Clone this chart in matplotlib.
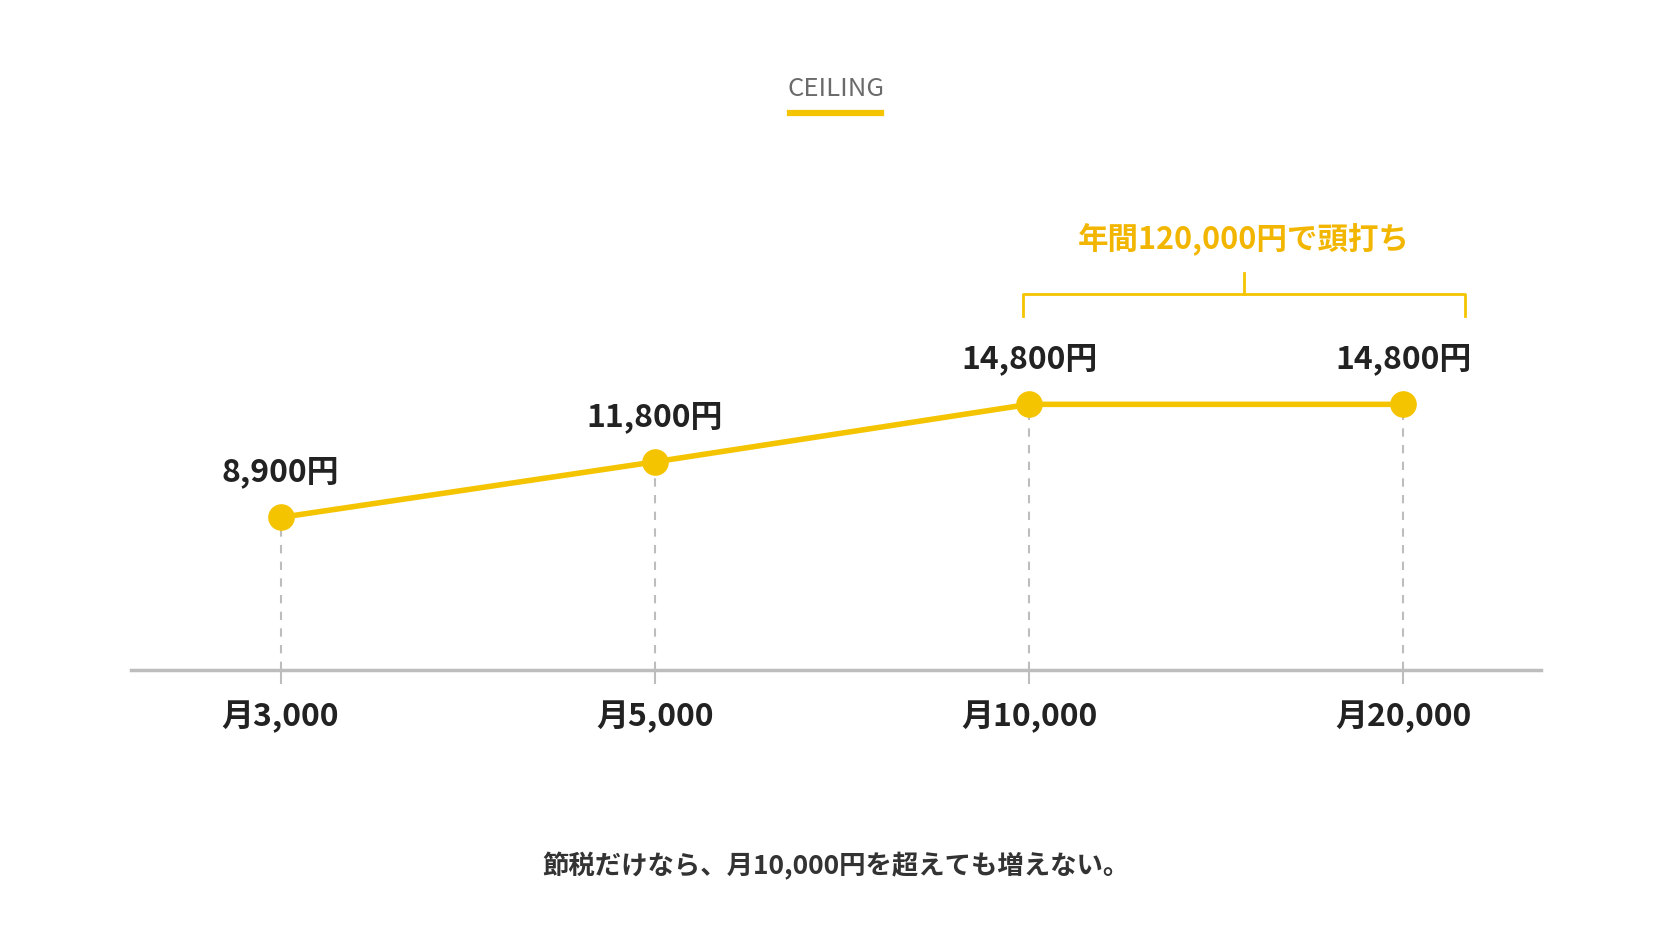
import matplotlib
matplotlib.use("Agg")
import matplotlib.pyplot as plt

plt.rcParams['font.family'] = ['Noto Sans CJK JP', 'DejaVu Sans']

categories = ["月3,000", "月5,000", "月10,000", "月20,000"]
values = [8900, 11800, 14800, 14800]
value_labels = ["8,900円", "11,800円", "14,800円", "14,800円"]
ceiling_note = "年間120,000円で頭打ち"
title = "CEILING"
footer = "節税だけなら、月10,000円を超えても増えない。"

W, H = 1568, 882
gold = "#F5C400"
fig = plt.figure(figsize=(16.72, 9.41), dpi=100)
fig.patch.set_facecolor("white")
ax = fig.add_axes([123/W, 1-628/H, (1445-123)/W, (628-140)/H])
ax.set_xlim(-0.399, 3.367)
ax.set_ylim(942, 28100)
for s in ["top", "right", "left"]:
    ax.spines[s].set_visible(False)
ax.spines["bottom"].set_color("#BDBDBD")
ax.spines["bottom"].set_linewidth(2.5)
x = list(range(len(categories)))
ax.set_yticks([])
ax.set_xticks(x)
ax.set_xticklabels(categories, fontsize=23, fontweight="bold", color="#222222")
ax.tick_params(axis="x", length=10, width=1.5, color="#BDBDBD", pad=12)

for xi, v in zip(x, values):
    ax.plot([xi, xi], [942, v], ls=(0, (4, 4)), color="#BDBDBD", lw=1.5, zorder=1)
ax.plot(x, values, color=gold, lw=4, zorder=2)
ax.scatter(x, values, s=330, color=gold, zorder=3)
for xi, v, lab in zip(x, values, value_labels):
    ax.text(xi, v + 2350, lab, ha="center", va="center", fontsize=23,
            fontweight="bold", color="#222222")

# bracket
bx0, bx1, by, bdrop, btop = 1.983, 3.165, 20530, 19417, 21643
bc = (bx0 + bx1) / 2
ax.plot([bx0, bx0, bx1, bx1], [bdrop, by, by, bdrop], color=gold, lw=2, clip_on=False)
ax.plot([bc, bc], [by, btop], color=gold, lw=2, clip_on=False)
ax.text(bc, 23450, ceiling_note, ha="center", va="center", fontsize=22,
        fontweight="bold", color="#F2B600")

fig.text(784/W, 1-83/H, title, ha="center", va="center", fontsize=18.5, color="#6B6B6B")
fig.add_artist(plt.Line2D([741/W, 826/W], [1-106/H, 1-106/H], color=gold, lw=4.5))
fig.text(784/W, 1-812/H, footer, ha="center", va="center", fontsize=19,
         fontweight="bold", color="#333333")

fig.savefig("out.png", dpi=100, facecolor="white")
